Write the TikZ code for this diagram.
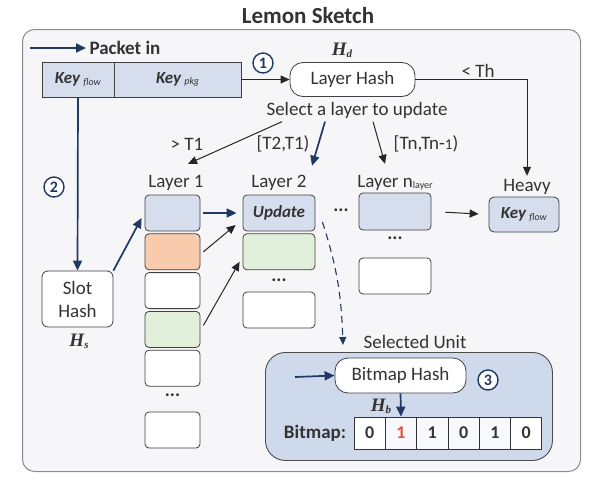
\documentclass[tikz,border=0pt]{standalone}
\usepackage{fontspec}
\setmainfont{Carlito}
\newfontfamily\hfont{Liberation Serif}
\usetikzlibrary{arrows.meta, positioning, calc}
\definecolor{navy}{RGB}{31,56,100}
\definecolor{keyblue}{RGB}{214,222,238}
\definecolor{cellorange}{RGB}{248,203,173}
\definecolor{cellgreen}{RGB}{226,239,218}
\definecolor{unitblue}{RGB}{207,217,236}
\definecolor{bgray}{RGB}{246,246,248}
\definecolor{bitred}{RGB}{232,80,60}
\newcommand{\keytxt}[1]{\textbf{\textit{Key}}\,\raisebox{-1.5pt}{\fontsize{10}{10}\selectfont\textit{#1}}}
\newcommand{\hvar}[1]{{\hfont\bfseries\itshape H\raisebox{-2pt}{\fontsize{11}{11}\selectfont #1}}}

\begin{document}
\begin{tikzpicture}[x=1pt, y=-1pt,
  every node/.style={align=center, font=\fontsize{19}{21}\selectfont, text=black!80},
  cell/.style={draw=black!75, line width=0.8pt, rounded corners=4pt, minimum height=36pt, inner sep=0pt},
  hashbox/.style={draw=black!75, line width=0.8pt, fill=white, rounded corners=13pt, minimum height=34pt, inner sep=0pt},
  stepnum/.style={circle, draw=navy, line width=1.4pt, fill=white, minimum size=20pt, inner sep=0pt, font=\fontsize{16}{16}\selectfont\bfseries, text=navy},
  navyarrow/.style={-{Triangle[length=10pt,width=9pt]}, draw=navy, line width=1.7pt},
  blkarrow/.style={-{Triangle[length=9pt,width=8pt]}, draw=black!85, line width=1pt},
  bit/.style={draw=black!80, line width=0.8pt, minimum width=31.3pt, minimum height=32pt, inner sep=0pt, font=\fontsize{18}{18}\selectfont\bfseries}
]
\useasboundingbox (0,0) rectangle (599,482);

% Frame and title
\node[draw=black!45, fill=bgray, rounded corners=12pt, line width=1pt, minimum width=558pt, minimum height=442pt, anchor=north west] (Frame) at (22,29) {};
\node[font=\fontsize{23}{25}\selectfont\bfseries] (Title) at (308,16) {Lemon Sketch};

% Packet and keys
\coordinate (PktIn) at (30,48);
\node[font=\fontsize{19}{21}\selectfont\bfseries, anchor=west] (Pkt) at (86,48) {Packet in};
\node[cell, fill=keyblue, rounded corners=0pt, minimum width=72pt, minimum height=35pt, font=\fontsize{17}{19}\selectfont] (KeyFlow) at (78,79.5) {\keytxt{flow}};
\node[cell, fill=keyblue, rounded corners=0pt, minimum width=127pt, minimum height=35pt, font=\fontsize{17}{19}\selectfont, right=-0.8pt of KeyFlow] (KeyPkg) {\keytxt{pkg}};

% Hash units
\node[hashbox, minimum width=125pt] (LayerHash) at (352.5,79.5) {Layer Hash};
\node (Hd) at (342,50) {\hvar{d}};
\node[stepnum] (One) at (263,63) {1};
\node (Select) at (357,110) {Select a layer to update};
\node[draw=black!75, line width=0.8pt, fill=white, rounded corners=6pt, minimum width=71pt, minimum height=56pt, inner sep=0pt, font=\fontsize{19}{23}\selectfont] (Slot) at (77.5,299) {Slot\\Hash};
\node (Hs) at (79,341) {\hvar{s}};
\node[stepnum] (Two) at (54,187) {2};

% Thresholds and layer titles
\node (Th) at (478,71) {< Th};
\node (T1) at (187,144) {> T1};
\node (T2) at (283,144) {[T2,T1)};
\node (Tn) at (426,144) {[Tn,Tn-{\fontsize{15}{15}\selectfont 1})};
\node (Lab1) at (176,183) {Layer 1};
\node (Lab2) at (279,183) {Layer 2};
\node (LabN) at (395,183) {Layer n\raisebox{-1pt}{\fontsize{10}{10}\selectfont layer}};
\node (LabH) at (527,187) {Heavy};

% Layer 1
\node[cell, fill=keyblue, minimum width=55pt] (L1a) at (172.5,213) {};
\node[cell, fill=cellorange, minimum width=55pt, below=2pt of L1a] (L1b) {};
\node[cell, fill=white, minimum width=55pt, below=2pt of L1b] (L1c) {};
\node[cell, fill=cellgreen, minimum width=55pt, below=2pt of L1c] (L1d) {};
\node[cell, fill=white, minimum width=55pt, below=2pt of L1d] (L1e) {};
\node[font=\fontsize{19}{21}\selectfont\bfseries] (D1) at (172.5,395) {...};
\node[cell, fill=white, minimum width=55pt] (L1f) at (172.5,430) {};

% Layer 2
\node[cell, fill=keyblue, minimum width=72pt, font=\fontsize{17}{19}\selectfont\bfseries\itshape] (L2a) at (279,213) {Update};
\node[cell, fill=cellgreen, minimum width=72pt, below=2pt of L2a] (L2b) {};
\node[font=\fontsize{19}{21}\selectfont\bfseries] (D2) at (279,280) {...};
\node[cell, fill=white, minimum width=72pt] (L2c) at (279,310) {};
\node[font=\fontsize{19}{21}\selectfont\bfseries] (D12) at (341,210) {...};

% Layer n
\node[cell, fill=keyblue, minimum width=72pt, minimum height=37pt] (LNa) at (395,211.5) {};
\node[font=\fontsize{19}{21}\selectfont\bfseries] (DN) at (395,238) {...};
\node[cell, fill=white, minimum width=72pt] (LNb) at (395,276) {};

% Heavy
\node[cell, fill=keyblue, minimum width=70pt, minimum height=35pt, rounded corners=5pt, font=\fontsize{17}{19}\selectfont] (Heavy) at (524,214.5) {\keytxt{flow}};

% Selected unit
\node (SelU) at (415,342) {Selected Unit};
\node[draw=black!70, line width=0.9pt, fill=unitblue, rounded corners=20pt, minimum width=287pt, minimum height=108pt, anchor=north west] (Unit) at (265,352) {};
\node[hashbox, minimum width=131pt, minimum height=35pt] (BHash) at (400.5,375.5) {Bitmap Hash};
\coordinate (BHin) at (295,377);
\node[stepnum] (Three) at (488,380) {3};
\node (Hb) at (381,406) {\hvar{b}};
\node[bit, fill=white] (B1) at (369.7,433) {0};
\node[bit, fill=white!60!unitblue!40, right=-0.8pt of B1] (B2) {\textcolor{bitred}{1}};
\node[bit, fill=white!60!unitblue!40, right=-0.8pt of B2] (B3) {1};
\node[bit, fill=white!60!unitblue!40, right=-0.8pt of B3] (B4) {0};
\node[bit, fill=white!60!unitblue!40, right=-0.8pt of B4] (B5) {1};
\node[bit, fill=white, right=-0.8pt of B5] (B6) {0};
\node[font=\fontsize{19}{21}\selectfont\bfseries, left=4pt of B1] (BitLab) {Bitmap:};

% Arrows
\draw[navyarrow] (PktIn) -- (Pkt.west);
\draw[blkarrow] (KeyPkg.east) -- (LayerHash.west);
\draw[blkarrow] (LayerHash.east) -| (LabH.north);
\draw[blkarrow] ([xshift=-75pt]Select.south) -- ([xshift=12pt,yshift=8pt]Lab1.north);
\draw[navyarrow] ([xshift=-32pt]Select.south) -- ([xshift=33pt,yshift=6pt]Lab2.north);
\draw[blkarrow] ([xshift=16pt]Select.south) -- ([xshift=-10pt,yshift=8pt]LabN.north);
\draw[navyarrow] (KeyFlow.south) -- (Slot.north);
\draw[navyarrow] (Slot.north east) -- ([xshift=-3pt,yshift=-5pt]L1a.west);
\draw[navyarrow, shorten <=3pt, shorten >=6pt] (L1a.east) -- (L2a.west);
\draw[blkarrow] ([xshift=3pt]L1b.east) -- ([xshift=-7pt,yshift=-12pt]L2a.west);
\draw[blkarrow] ([xshift=3pt,yshift=4pt]L1d.east) -- ([xshift=-3pt,yshift=-10pt]L2b.west);
\draw[blkarrow, shorten <=14pt, shorten >=10pt] (LNa.east) -- (Heavy.west);
\draw[navy, line width=1.1pt, dash pattern=on 7pt off 5pt, -{Triangle[length=8pt,width=7pt]}] ([xshift=7pt,yshift=-9pt]L2a.east) to[out=-72,in=92] ([xshift=78pt,yshift=7pt]Unit.north west);
\draw[navyarrow] (BHin) -- (BHash.west);
\draw[navyarrow] (BHash.south) -- (B2.north);
\end{tikzpicture}
\end{document}
